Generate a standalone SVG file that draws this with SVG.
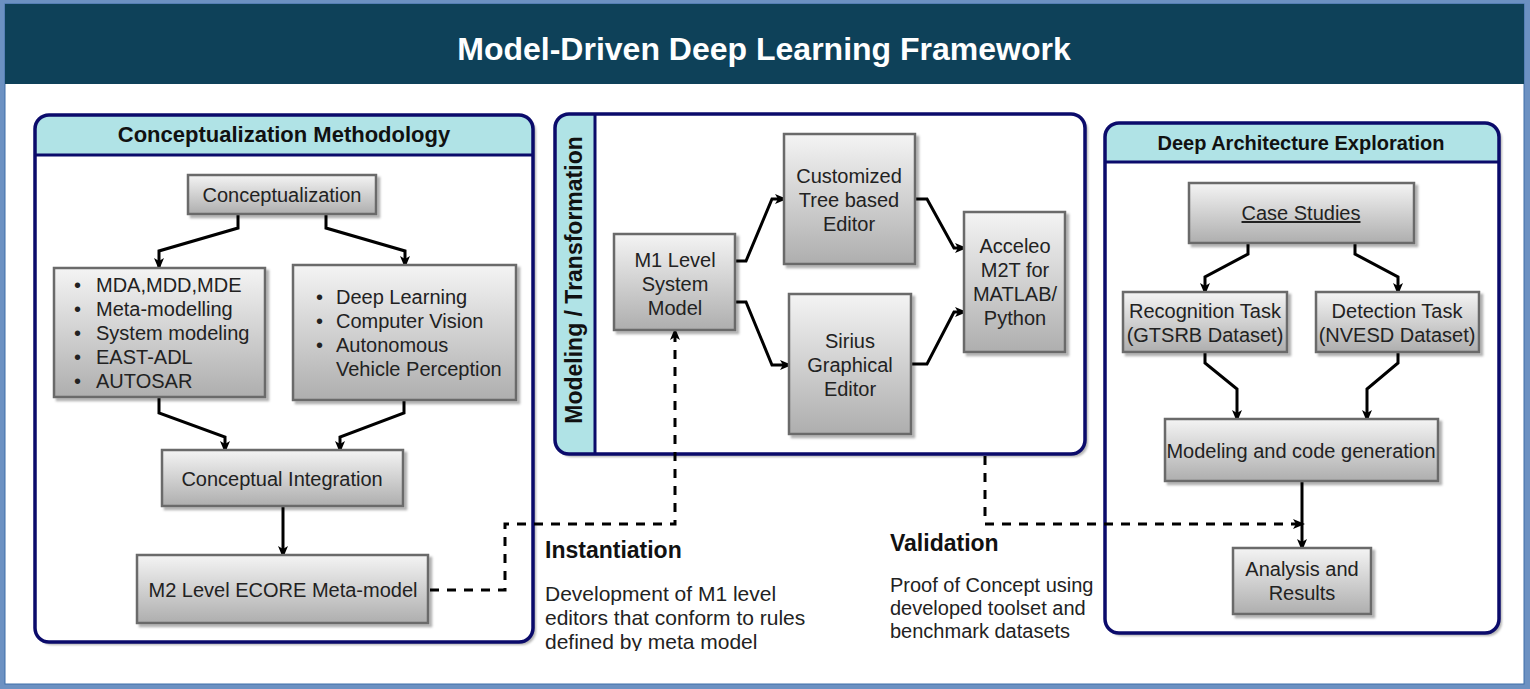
<svg xmlns="http://www.w3.org/2000/svg" width="1530" height="689" viewBox="0 0 1530 689">
<style>
text{font-family:"Liberation Sans",Arial,Helvetica,sans-serif;}
.box{fill:url(#g);stroke:#6a6a6a;stroke-width:2.5;filter:url(#sh);}
.bt{font-size:20px;fill:#222;text-anchor:middle;}
.bl{font-size:20px;fill:#222;}
.pbg{fill:#fff;filter:url(#sh);}
.pb{fill:none;stroke:#0b0b6b;stroke-width:3.5;}
.hd{fill:#b0e3e6;}
.ht{font-weight:bold;fill:#111;text-anchor:middle;}
.c{fill:none;stroke:#000;stroke-width:3;marker-end:url(#arr);}
.d{fill:none;stroke:#000;stroke-width:3;stroke-dasharray:9 8;marker-end:url(#arr);}
.h2{font-weight:bold;font-size:23px;fill:#111;}
.p{fill:#222;}
</style>
<defs>
<linearGradient id="g" x1="0" y1="0" x2="0" y2="1">
<stop offset="0" stop-color="#f4f4f4"/>
<stop offset="1" stop-color="#aeaeae"/>
</linearGradient>
<filter id="sh" x="-10%" y="-10%" width="130%" height="130%">
<feDropShadow dx="3" dy="3" stdDeviation="1.2" flood-color="#000" flood-opacity="0.3"/>
</filter>
<marker id="arr" viewBox="0 0 12 10" refX="9" refY="5" markerWidth="12" markerHeight="10" orient="auto" markerUnits="userSpaceOnUse">
<path d="M0,0 L12,5 L0,10 L3,5 Z" fill="#000"/>
</marker>
<clipPath id="cpL"><rect x="35" y="115" width="498" height="527" rx="14"/></clipPath>
<clipPath id="cpM"><rect x="555" y="114" width="530" height="340" rx="14"/></clipPath>
<clipPath id="cpR"><rect x="1105" y="123" width="394" height="510" rx="14"/></clipPath>
<clipPath id="cpT"><rect x="530" y="560" width="320" height="91"/></clipPath>
</defs>

<rect x="0" y="0" width="1530" height="689" fill="#6c91c2"/>
<rect x="5" y="4" width="1519" height="680" fill="#fff" stroke="#3e6fa8" stroke-width="1"/>
<g id="title">
<rect x="5" y="4" width="1519" height="80" fill="#0e4159"/>
<text x="764" y="60" font-size="32" font-weight="bold" fill="#fff" text-anchor="middle">Model-Driven Deep Learning Framework</text>
</g>

<g id="panel-conceptualization">
<rect class="pbg" x="35" y="115" width="498" height="527" rx="14"/>
<rect class="hd" x="35" y="115" width="498" height="40" clip-path="url(#cpL)"/>
<line x1="35" y1="155" x2="533" y2="155" stroke="#0b0b6b" stroke-width="3"/>
<rect class="pb" x="35" y="115" width="498" height="527" rx="14"/>
<text class="ht" x="284" y="142" font-size="22">Conceptualization Methodology</text>
</g>

<g id="panel-modeling">
<rect class="pbg" x="555" y="114" width="530" height="340" rx="14"/>
<rect class="hd" x="555" y="114" width="40" height="340" clip-path="url(#cpM)"/>
<line x1="595" y1="114" x2="595" y2="454" stroke="#0b0b6b" stroke-width="3"/>
<rect class="pb" x="555" y="114" width="530" height="340" rx="14"/>
<text class="ht" font-size="23" transform="translate(582,280) rotate(-90)">Modeling / Transformation</text>
</g>

<g id="panel-exploration">
<rect class="pbg" x="1105" y="123" width="394" height="510" rx="14"/>
<rect class="hd" x="1105" y="123" width="394" height="39" clip-path="url(#cpR)"/>
<line x1="1105" y1="162" x2="1499" y2="162" stroke="#0b0b6b" stroke-width="3"/>
<rect class="pb" x="1105" y="123" width="394" height="510" rx="14"/>
<text class="ht" x="1301" y="150" font-size="20">Deep Architecture Exploration</text>
</g>

<g id="connectors">
<path class="c" d="M238,215 V228 L159,251 V267"/>
<path class="c" d="M326,215 V228 L405,251 V265"/>
<path class="c" d="M159,398 V413 L225,437 V450"/>
<path class="c" d="M404,401 V413 L340,437 V450"/>
<path class="c" d="M283,507 V555"/>
<path class="c" d="M736,261 H746 L772,199 H784"/>
<path class="c" d="M736,302 H746 L772,365 H789"/>
<path class="c" d="M916,199 H927 L954,248 H964"/>
<path class="c" d="M912,364 H927 L954,312 H964"/>
<path class="c" d="M1248,244 V254 L1205,277 V292"/>
<path class="c" d="M1355,244 V254 L1398,277 V292"/>
<path class="c" d="M1205,353 V363 L1237,389 V419"/>
<path class="c" d="M1398,353 V363 L1367,389 V419"/>
<path class="c" d="M1302,482 V548"/>
<path class="d" d="M430,590 H505 V524 H675 V331"/>
<path class="d" d="M985,456 V524 H1302"/>
</g>

<g id="node-conceptualization">
<rect class="box" x="188" y="175" width="188" height="39"/>
<text class="bt" x="282" y="202">Conceptualization</text>
</g>
<g id="node-mda">
<rect class="box" x="54" y="268" width="211" height="129"/>
<text class="bl" x="74" y="292">•</text><text class="bl" x="96" y="292">MDA,MDD,MDE</text>
<text class="bl" x="74" y="316">•</text><text class="bl" x="96" y="316">Meta-modelling</text>
<text class="bl" x="74" y="340">•</text><text class="bl" x="96" y="340">System modeling</text>
<text class="bl" x="74" y="364">•</text><text class="bl" x="96" y="364">EAST-ADL</text>
<text class="bl" x="74" y="388">•</text><text class="bl" x="96" y="388">AUTOSAR</text>
</g>
<g id="node-deeplearning">
<rect class="box" x="293" y="265" width="223" height="135"/>
<text class="bl" x="316" y="304">•</text><text class="bl" x="336" y="304">Deep Learning</text>
<text class="bl" x="316" y="328">•</text><text class="bl" x="336" y="328">Computer Vision</text>
<text class="bl" x="316" y="352">•</text><text class="bl" x="336" y="352">Autonomous</text>
<text class="bl" x="336" y="376">Vehicle Perception</text>
</g>
<g id="node-integration">
<rect class="box" x="162" y="450" width="241" height="56"/>
<text class="bt" x="282" y="486">Conceptual Integration</text>
</g>
<g id="node-m2">
<rect class="box" x="137" y="555" width="291" height="68"/>
<text class="bt" x="283" y="597">M2 Level ECORE Meta-model</text>
</g>

<g id="node-m1">
<rect class="box" x="614" y="234" width="121" height="96"/>
<text class="bt" x="675" y="267">M1 Level</text>
<text class="bt" x="675" y="291">System</text>
<text class="bt" x="675" y="315">Model</text>
</g>
<g id="node-tree">
<rect class="box" x="784" y="134" width="131" height="130"/>
<text class="bt" x="849" y="183">Customized</text>
<text class="bt" x="849" y="207">Tree based</text>
<text class="bt" x="849" y="231">Editor</text>
</g>
<g id="node-sirius">
<rect class="box" x="789" y="294" width="122" height="140"/>
<text class="bt" x="850" y="348">Sirius</text>
<text class="bt" x="850" y="372">Graphical</text>
<text class="bt" x="850" y="396">Editor</text>
</g>
<g id="node-acceleo">
<rect class="box" x="964" y="212" width="101" height="140"/>
<text class="bt" x="1015" y="253">Acceleo</text>
<text class="bt" x="1015" y="277">M2T for</text>
<text class="bt" x="1015" y="301">MATLAB/</text>
<text class="bt" x="1015" y="325">Python</text>
</g>

<g id="node-casestudies">
<rect class="box" x="1189" y="183" width="225" height="60"/>
<text class="bt" x="1301" y="220" text-decoration="underline">Case Studies</text>
</g>
<g id="node-recognition">
<rect class="box" x="1123" y="292" width="164" height="60"/>
<text class="bt" x="1205" y="318">Recognition Task</text>
<text class="bt" x="1205" y="342">(GTSRB Dataset)</text>
</g>
<g id="node-detection">
<rect class="box" x="1316" y="292" width="163" height="60"/>
<text class="bt" x="1397" y="318">Detection Task</text>
<text class="bt" x="1397" y="342">(NVESD Dataset)</text>
</g>
<g id="node-modeling-codegen">
<rect class="box" x="1165" y="419" width="273" height="62"/>
<text class="bt" x="1301" y="458">Modeling and code generation</text>
</g>
<g id="node-analysis">
<rect class="box" x="1233" y="548" width="138" height="66"/>
<text class="bt" x="1302" y="576">Analysis and</text>
<text class="bt" x="1302" y="600">Results</text>
</g>

<g id="label-instantiation">
<text class="h2" x="545" y="558">Instantiation</text>
<g clip-path="url(#cpT)">
<text class="p" x="545" y="601" font-size="21">Development of M1 level</text>
<text class="p" x="545" y="625" font-size="21">editors that conform to rules</text>
<text class="p" x="545" y="649" font-size="21">defined by meta model</text>
</g>
</g>
<g id="label-validation">
<text class="h2" x="890" y="551">Validation</text>
<text class="p" x="890" y="592" font-size="20">Proof of Concept using</text>
<text class="p" x="890" y="615" font-size="20">developed toolset and</text>
<text class="p" x="890" y="638" font-size="20">benchmark datasets</text>
</g>
</svg>
